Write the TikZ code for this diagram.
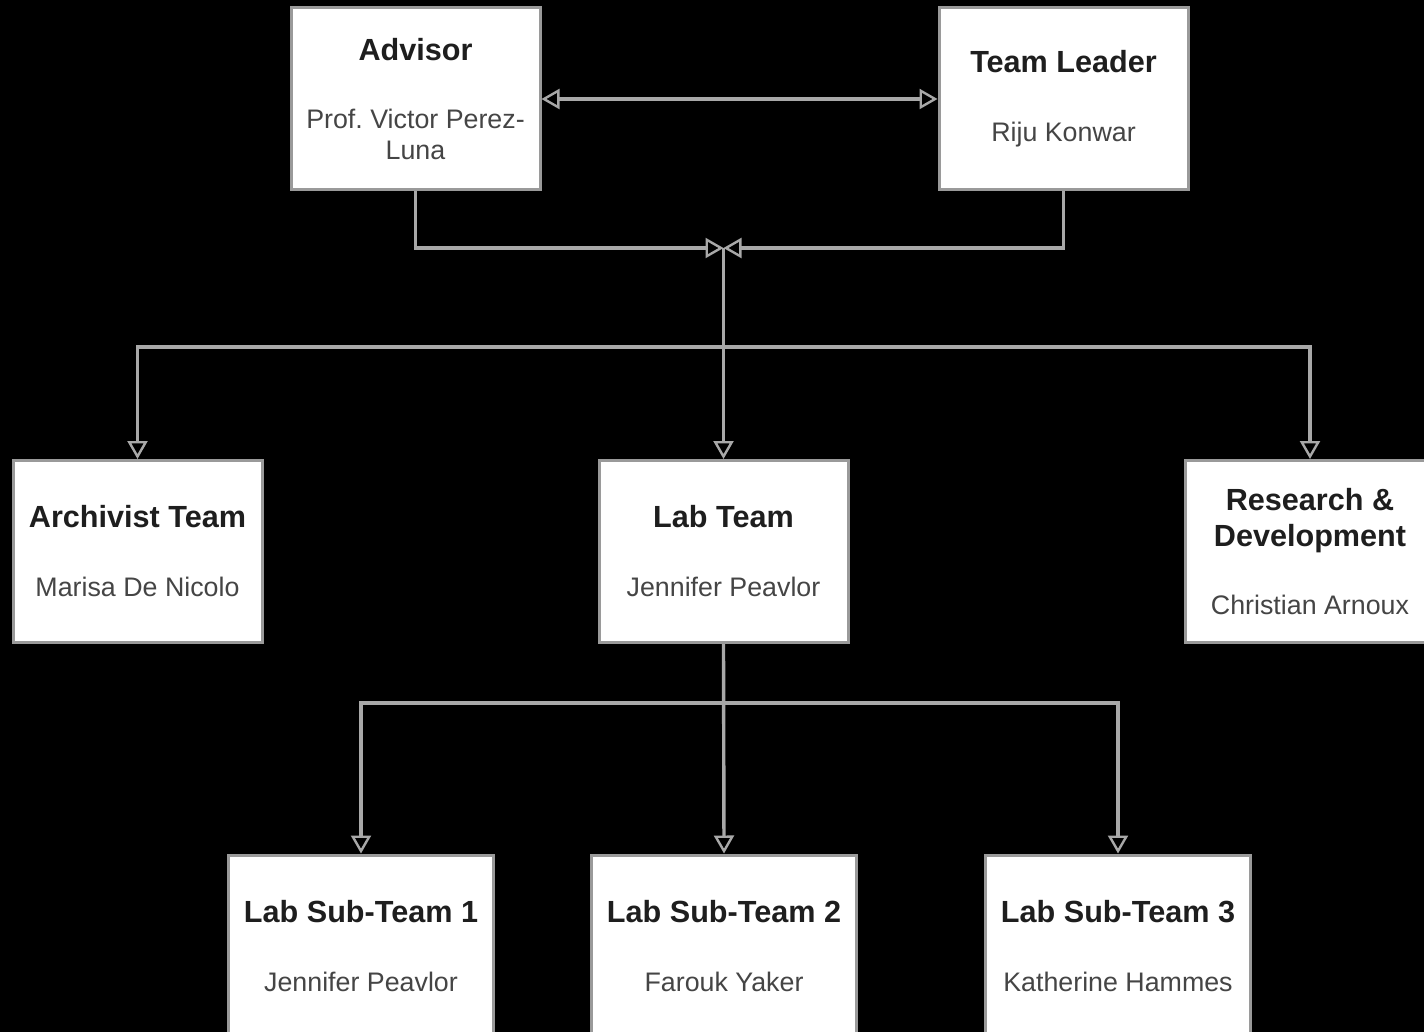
\documentclass[tikz,border=0pt]{standalone}
\usepackage{fontspec}
\setmainfont{Liberation Sans}
\usetikzlibrary{arrows.meta}
\definecolor{linegray}{HTML}{A8A8A8}
\definecolor{edgegray}{HTML}{9A9A9A}
\definecolor{titlegray}{HTML}{1E1E1E}
\definecolor{namegray}{HTML}{454545}
\def\boxtitle#1{{\bfseries\fontsize{15.3}{18}\selectfont\color{titlegray}#1}}
\def\boxname#1{{\color{namegray}#1}}

\begin{document}
\begin{tikzpicture}[x=0.5pt, y=-0.5pt,
		box/.style={draw=edgegray, line width=1.5pt, fill=white, align=center,
			minimum width=124.5pt, minimum height=91pt, inner sep=0pt,
			font=\fontsize{13.4}{15.5}\selectfont},
		subbox/.style={box, minimum width=132.5pt},
		link/.style={draw=linegray, line width=1.7pt},
		tip/.style={link, -{Triangle[open, length=9pt, width=10pt, line width=1.2pt]}},
		bothtip/.style={link, {Triangle[open, length=9pt, width=10pt, line width=1.2pt]}-{Triangle[open, length=9pt, width=10pt, line width=1.2pt]}}]
		%%%%% START %%%%%
		
		\fill[black] (0, 0) rectangle (1424, 1032);
		\useasboundingbox (0, 0) rectangle (1424, 1032);
		\clip (0, 0) rectangle (1424, 1032);
		
		% top row
		\node[box] (adv) at (415.5, 99) {\boxtitle{Advisor}\\[18.5pt]\boxname{Prof.\ Victor Perez-}\\\boxname{Luna}};
		\node[box] (lead) at (1063.5, 99) {\boxtitle{Team Leader}\\[19pt]\boxname{Riju Konwar}};
		
		% teams
		\node[box] (arch) at (137.5, 551.5) {\boxtitle{Archivist Team}\\[19pt]\boxname{Marisa De Nicolo}};
		\node[box] (lab) at (723.5, 551.5) {\boxtitle{Lab Team}\\[19pt]\boxname{Jennifer Peavlor}};
		\node[box] (rnd) at (1310, 551.5) {\boxtitle{Research \&}\\[2.5pt]\boxtitle{Development}\\[18.5pt]\boxname{Christian Arnoux}};
		
		% lab sub-teams
		\node[subbox] (sub1) at (361, 946) {\boxtitle{Lab Sub-Team 1}\\[19pt]\boxname{Jennifer Peavlor}};
		\node[subbox] (sub2) at (724, 946) {\boxtitle{Lab Sub-Team 2}\\[19pt]\boxname{Farouk Yaker}};
		\node[subbox] (sub3) at (1118, 946) {\boxtitle{Lab Sub-Team 3}\\[19pt]\boxname{Katherine Hammes}};
		
		\coordinate (meet) at (723.5, 248);
		\coordinate (bus) at (723.5, 347);
		\coordinate (labbus) at (723.5, 703);
		
		\draw[bothtip] (adv.east) -- (lead.west);
		\draw[tip] (adv.south) |- (meet);
		\draw[tip] (lead.south) |- (meet);
		
		\draw[tip] (meet) -- (lab.north);
		\draw[tip] (bus) -| (arch.north);
		\draw[tip] (bus) -| (rnd.north);
		
		\draw[tip] (lab.south) -- (sub2.north);
		\draw[tip] (labbus) -| (sub1.north);
		\draw[tip] (labbus) -| (sub3.north);
		
		%%%%% END %%%%%
	\end{tikzpicture}
\end{document}
